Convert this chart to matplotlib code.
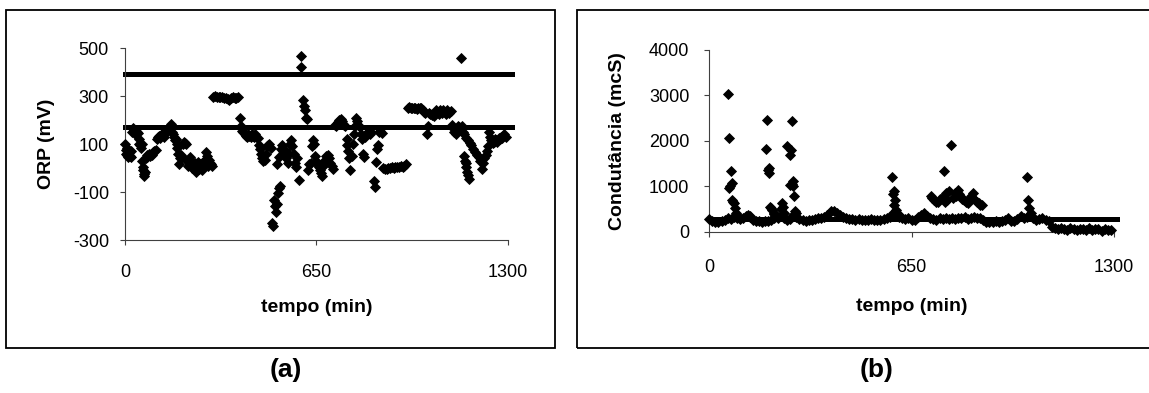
import matplotlib
matplotlib.use("Agg")
import matplotlib.pyplot as plt
from matplotlib.patches import Rectangle

plt.rcParams['font.family'] = ['Liberation Sans', 'DejaVu Sans']
plt.rcParams['axes.unicode_minus'] = False

# ---- (a) ORP data: time (min) and ORP (mV) ----
orp_time = [
    0, 2, 4, 6, 8, 10, 13, 16, 19, 22,
    25, 28, 31, 34, 37, 40, 43, 46, 48, 50,
    53, 56, 58, 60, 62, 64, 66, 68, 70, 73,
    76, 80, 84, 88, 92, 96, 100, 104, 108, 112,
    116, 120, 124, 128, 132, 136, 140, 144, 148, 152,
    156, 160, 163, 166, 169, 172, 175, 178, 181, 183,
    186, 189, 192, 196, 200, 204, 208, 212, 215, 218,
    221, 224, 227, 230, 233, 236, 239, 242, 245, 248,
    251, 254, 257, 260, 263, 266, 269, 272, 275, 278,
    281, 284, 288, 292, 296,
    300, 306, 312, 318, 324, 330, 336, 342, 348, 354, 360, 366, 372, 378, 384,
    390, 394, 398, 402, 406, 410, 414, 418, 422, 426, 430, 434, 438, 442, 446, 450,
    455, 458, 461, 464, 467, 470, 474, 478, 482, 486, 490, 494,
    500, 503, 506, 509, 512, 515, 520, 524, 527,
    517, 522, 528, 532, 536, 540, 544, 548, 552, 556, 560, 564, 568, 572, 576, 580, 585, 590,
    596, 598, 603, 606, 610, 614, 618,
    622, 626, 630, 634, 638, 641, 645, 649, 653, 657, 661, 665, 669, 673, 677, 681, 685, 689,
    693, 697, 701, 705,
    712, 716, 720, 724, 728, 732, 736, 740, 744, 748, 752, 755, 758, 762, 765, 769, 773, 777,
    781, 784, 788, 792, 796,
    800, 804, 808, 812, 816, 820, 824, 828, 832, 836,
    844, 847, 851, 855, 859, 863, 867, 871,
    876, 882, 888, 894, 900, 906, 912, 918, 924, 930, 936, 942, 948, 954,
    960, 965, 970, 975, 980, 985, 990, 995, 1000, 1005, 1010, 1015, 1020, 1025, 1029, 1033,
    1037, 1041, 1045, 1049, 1053, 1057, 1061, 1065, 1069, 1073, 1077, 1081, 1085, 1089, 1093,
    1097, 1101, 1105,
    1110, 1114, 1118, 1122, 1126, 1130, 1134, 1139, 1143, 1147,
    1150, 1153, 1156, 1159, 1162, 1165, 1168,
    1152, 1158, 1164, 1170, 1176, 1182, 1188, 1194, 1200, 1206, 1212, 1216, 1220, 1224, 1228, 1232,
    1236, 1240, 1244, 1248, 1252, 1256, 1260, 1264, 1268, 1272, 1276, 1280, 1284, 1288, 1292,
]
orp_mv = [
    100, 75, 60, 85, 55, 45, 65, 50, 45, 70,
    150, 165, 160, 140, 155, 150, 145, 120, 100, 95,
    85, 100, 30, 5, -10, -25, -35, -15, 40, 55,
    45, 60, 50, 60, 55, 65, 70, 75, 120, 130,
    135, 125, 140, 145, 130, 145, 150, 155, 165, 175,
    185, 150, 140, 130, 115, 120, 100, 85, 60, 15,
    40, 55, 45, 100, 110, 105, 100, 30, 10, 25,
    45, 30, 0, 15, -5, 20, 5, -15, 10, 25,
    -5, 15, 0, 20, -10, 5, 30, 15, 65, 50,
    10, 35, 20, 15, 10,
    295, 298, 296, 297, 294, 296, 293, 292, 288, 285, 292, 296, 293, 290, 295,
    210, 175, 155, 150, 140, 135, 130, 140, 135, 130, 140, 135, 130, 140, 130, 125,
    95, 80, 60, 40, 30, 50, 35, 60, 90, 95, 100, 85,
    -230, -240, -135, -160, -185, -150, -105, -85, -75,
    15, 45, 80, 95, 70, 55, 75, 40, 20, 60, 100, 115, 90, 60, 20, 5, 40, -50,
    465, 420, 285, 260, 240, 210, 205,
    -10, 15, 20, 90, 115, 100, 50, 30, 15, 5, -10, -20, -35, 10, 30, 50, 35, 55,
    40, 20, 10, -5,
    180, 175, 185, 190, 200, 205, 195, 185, 180, 175, 120, 95, 70, 40, -10, 50, 100, 140,
    175, 210, 195, 180, 170,
    140, 120, 60, 45, 130, 145, 150, 145, 140, 150,
    -55, -80, 25, 80, 95, 150, 155, 145,
    0, -5, -5, 0, 0, 5, 0, 5, 5, 5, 10, 5, 10, 15,
    250, 255, 250, 248, 252, 250, 245, 250, 252, 248, 240, 235, 230, 140, 175, 230,
    225, 220, 225, 215, 230, 240, 235, 225, 240, 235, 230, 240, 235, 225, 240,
    235, 230, 238,
    180, 165, 150, 140, 160, 175, 170, 458, 175, 150,
    50, 30, 20, 5, -15, -30, -45,
    140, 125, 115, 105, 95, 80, 65, 55, 45, 30, -5, 20, 40, 55, 70, 90,
    150, 130, 115, 105, 110, 120, 115, 110, 125, 120, 130, 125, 135, 140, 130,
]
orp_lines_time = [0, 1315]
orp_upper = [392, 392]
orp_lower = [170, 170]

# ---- (b) Conductance data: time (min) and conductance (mcS) ----
cond_time = [
    0, 10, 20, 30, 40, 50, 60, 70, 80, 90,
    100, 110, 120, 130, 140, 150, 160, 170, 180, 190,
    200, 210, 220, 230, 240, 250, 260, 270, 280, 290,
    300, 310, 320, 330, 340, 350, 360, 370, 380, 390,
    400, 410, 420, 430, 440, 450, 460, 470, 480, 490,
    500, 510, 520, 530, 540, 550, 560, 570, 580, 590,
    600, 610, 620, 630, 640, 650, 660, 670, 680, 690,
    700, 710, 720, 730, 740, 750, 760, 770, 780, 790,
    800, 810, 820, 830, 840, 850, 860, 870, 880, 890,
    900, 910, 920, 930, 940, 950, 960, 970, 980, 990,
    1000, 1010, 1020, 1030, 1040, 1050, 1060, 1070, 1080, 1090,
    1100, 1110, 1120, 1130, 1140, 1150, 1160, 1170, 1180, 1190,
    1200, 1210, 1220, 1230, 1240, 1250, 1260, 1270, 1280, 1290,
    61, 64, 65, 68, 70, 73, 74, 77, 80, 83, 87, 90,
    126, 131,
    182, 186, 188, 191, 194, 197, 200, 203, 207, 210,
    230, 233, 236, 240,
    250, 259, 260, 262, 265, 266, 268, 271, 274, 277, 280,
    587, 590, 593, 595, 597, 600, 604, 610,
    711, 716, 723, 729, 735, 741, 747, 753, 756, 759, 764, 770, 776, 782, 788, 794,
    800, 803, 806, 812, 818, 824, 830, 836, 842, 847, 853, 859, 865, 871, 877,
    1021, 1025, 1028, 1033,
]
cond_mcs = [
    280, 250, 230, 220, 240, 270, 300, 280, 320, 300,
    280, 300, 360, 330, 260, 240, 250, 230, 240, 250,
    270, 300, 310, 350, 300, 260, 290, 380, 330, 280,
    260, 250, 270, 260, 280, 300, 310, 330, 380, 460,
    470, 420, 370, 330, 300, 290, 280, 270, 280, 270,
    260, 270, 280, 270, 260, 270, 280, 300, 320, 420,
    380, 330, 300, 280, 300, 270, 260, 320, 380, 410,
    350, 300, 280, 270, 300, 290, 310, 280, 300, 290,
    300, 310, 320, 290, 300, 330, 310, 300, 270, 230,
    220, 230, 240, 220, 250, 270, 300, 250, 240, 280,
    350, 300, 330, 380, 300, 260, 280, 300, 270, 250,
    120, 80, 60, 90, 70, 50, 80, 60, 40, 70,
    60, 50, 80, 40, 60, 70, 30, 60, 50, 40,
    3040, 960, 2070, 1000, 1340, 1070, 710, 650, 630, 530, 420, 380,
    380, 350,
    1820, 2460, 1360, 1290, 1400, 560, 520, 490, 420, 400,
    500, 630, 560, 420,
    1900, 1040, 1700, 1800, 2440, 1060, 1110, 1000, 780, 460, 420,
    1200, 840, 890, 600, 710, 480, 420, 380,
    780, 740, 700, 650, 670, 720, 740, 1330, 650, 850, 700, 890, 1920, 750, 850, 780,
    920, 830, 780, 720, 700, 650, 630, 720, 800, 850, 700, 650, 630, 600, 590,
    1200, 710, 530, 420,
]
cond_line_time = [0, 1308]
cond_line = [290, 290]

fig = plt.figure(figsize=(11.49, 3.93), dpi=100)

# outer chart-area frames
fig.patches.append(Rectangle((0.0052, 0.1145), 0.4778, 0.860, transform=fig.transFigure,
                             fill=False, edgecolor='black', linewidth=1.3))
fig.patches.append(Rectangle((0.5022, 0.1145), 0.51, 0.860, transform=fig.transFigure,
                             fill=False, edgecolor='black', linewidth=1.3))

ax1 = fig.add_axes([0.1088, 0.3893, 0.3333, 0.4885])
ax2 = fig.add_axes([0.6171, 0.4097, 0.3525, 0.4631])

# (a) ORP
ax1.plot(orp_lines_time, orp_upper, color='black', linewidth=3.6, clip_on=False, zorder=2)
ax1.plot(orp_lines_time, orp_lower, color='black', linewidth=3.6, clip_on=False, zorder=2)
ax1.plot(orp_time, orp_mv, linestyle='none', marker='D', markersize=4.8,
         color='black', markeredgewidth=0.6, clip_on=False, zorder=3)
ax1.set_xlim(0, 1300)
ax1.set_ylim(-300, 500)
ax1.set_xticks([0, 650, 1300])
ax1.set_yticks([-300, -100, 100, 300, 500])
ax1.set_xlabel('tempo (min)', fontsize=14, fontweight='bold')
ax1.set_ylabel('ORP (mV)', fontsize=14, fontweight='bold')
ax1.xaxis.set_label_coords(0.5, -0.354)
ax1.yaxis.set_label_coords(-0.204, 0.5)
ax1.tick_params(axis='x', pad=13.5)
ax1.tick_params(axis='y', pad=8)

# (b) Conductance
ax2.plot(cond_line_time, cond_line, color='black', linewidth=3.6, clip_on=False, zorder=2)
ax2.plot(cond_time, cond_mcs, linestyle='none', marker='D', markersize=4.8,
         color='black', markeredgewidth=0.6, clip_on=False, zorder=3)
ax2.set_xlim(0, 1300)
ax2.set_ylim(0, 4000)
ax2.set_xticks([0, 650, 1300])
ax2.set_yticks([0, 1000, 2000, 3000, 4000])
ax2.set_xlabel('tempo (min)', fontsize=14, fontweight='bold')
ax2.set_ylabel('Condutância (mcS)', fontsize=14, fontweight='bold')
ax2.xaxis.set_label_coords(0.5, -0.412)
ax2.yaxis.set_label_coords(-0.225, 0.5)
ax2.tick_params(axis='x', pad=15.5)
ax2.tick_params(axis='y', pad=10.5)

for ax in (ax1, ax2):
    ax.spines['top'].set_visible(False)
    ax.spines['right'].set_visible(False)
    for s in ('left', 'bottom'):
        ax.spines[s].set_color('#404040')
        ax.spines[s].set_linewidth(0.8)
    ax.tick_params(direction='out', length=3.6, width=0.8, color='#404040',
                   labelsize=13)
    ax.xaxis.label.set_va('center')
    ax.yaxis.label.set_va('center')
    ax.set_facecolor('none')

fig.text(0.249, 0.0585, '(a)', fontsize=19, fontweight='bold', ha='center', va='center')
fig.text(0.763, 0.0585, '(b)', fontsize=19, fontweight='bold', ha='center', va='center')

fig.savefig('out.png', dpi=100)
